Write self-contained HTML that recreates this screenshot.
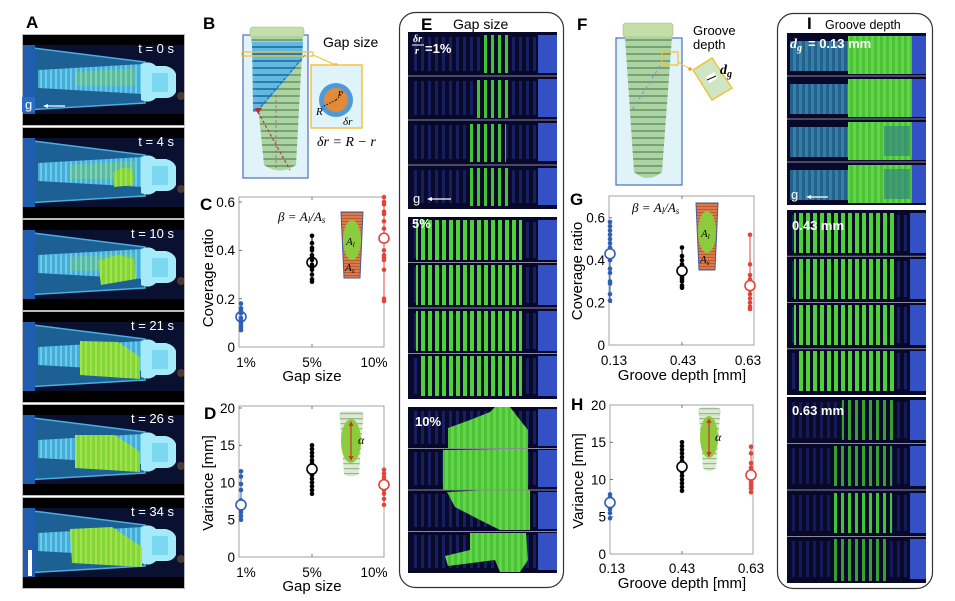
<!DOCTYPE html>
<html><head><meta charset="utf-8">
<style>html,body{margin:0;padding:0;background:#fff}svg{display:block}</style>
</head><body>
<svg width="955" height="601" viewBox="0 0 955 601" xmlns="http://www.w3.org/2000/svg" font-family="'Liberation Sans', Arial, sans-serif">
<defs>
 <pattern id="thA" width="5" height="20" patternUnits="userSpaceOnUse"><rect width="5" height="20" fill="#46acd8"/><rect width="2" height="20" fill="#6ccaea"/></pattern>
 <pattern id="gA" width="5" height="20" patternUnits="userSpaceOnUse"><rect width="5" height="20" fill="#84d43c"/><rect width="2" height="20" fill="#a0e44a"/></pattern>
 <pattern id="sg" width="7" height="20" patternUnits="userSpaceOnUse"><rect x="1" width="3" height="20" fill="#42c434"/></pattern>
 <pattern id="sg2" width="7" height="20" patternUnits="userSpaceOnUse"><rect x="1" width="4" height="20" fill="#4ed03a"/></pattern>
 <pattern id="sg3" width="7" height="20" patternUnits="userSpaceOnUse"><rect x="1" width="3" height="20" fill="#38a030"/></pattern>
 <pattern id="sb" width="7" height="20" patternUnits="userSpaceOnUse"><rect width="7" height="20" fill="#09092a"/><rect x="1" width="3" height="20" fill="#161f62"/></pattern>
 <pattern id="sc" width="6" height="20" patternUnits="userSpaceOnUse"><rect width="6" height="20" fill="#22628c"/><rect x="1" width="3" height="20" fill="#3480a4"/></pattern>
 <pattern id="gb" width="6" height="20" patternUnits="userSpaceOnUse"><rect width="6" height="20" fill="#4cc238"/><rect x="1" width="3" height="20" fill="#62d646"/></pattern>
 <pattern id="ht" width="20" height="7" patternUnits="userSpaceOnUse"><rect width="20" height="7" fill="#acd4a2"/><rect y="4" width="20" height="2" fill="#76a274"/></pattern>
 <pattern id="htl" width="20" height="5" patternUnits="userSpaceOnUse"><rect width="20" height="5" fill="#dcebd2"/><rect y="3" width="20" height="1.2" fill="#98b890"/></pattern>
 <pattern id="htb" width="20" height="7" patternUnits="userSpaceOnUse"><rect width="20" height="7" fill="#5cb8e2"/><rect y="4" width="20" height="2" fill="#2a78b0"/></pattern>
 <pattern id="org" width="20" height="3" patternUnits="userSpaceOnUse"><rect width="20" height="3" fill="#dc7a48"/><rect y="2" width="20" height="1" fill="#b85a36"/></pattern>
 <g id="fb">
  <rect x="22" y="0" width="163" height="92" fill="#000"/>
  <rect x="22" y="11" width="163" height="69" fill="#0a1130"/>
  <polygon points="25,13 145,28 145,69 25,76" fill="#1d6094" stroke="#4aaee0" stroke-width="1.5"/>
  <rect x="22" y="11" width="13" height="69" fill="#1f5db0"/>
  <polygon points="38,36 143,30 143,60 38,54" fill="url(#thA)"/>
  <path d="M141,30 Q150,26 156,32 L166,32 Q174,34 176,40 L176,58 Q173,64 166,64 L156,64 Q150,70 141,66 Z" fill="#a4eaf8"/>
  <rect x="152" y="39" width="16" height="19" fill="#7ad8f0"/>
  <circle cx="181" cy="62" r="4" fill="#6a4a34" opacity=".7"/>
  <rect x="22.5" y="0.5" width="162" height="91" fill="none" stroke="#bbb" stroke-width="1"/>
 </g>
</defs>
<rect width="955" height="601" fill="#fff"/>

<!-- ============ PANEL A ============ -->
<text x="26" y="28" font-size="17" font-weight="bold">A</text>
<g transform="translate(0,34)"><use href="#fb"/>
 <polygon points="75,38 135,34 135,52 75,52" fill="url(#gA)" opacity=".35"/>
 <text x="174" y="19" text-anchor="end" fill="#fff" font-size="13">t = 0 s</text>
 <rect x="22" y="63" width="13" height="15" fill="#2a6cc8"/>
 <text x="25" y="75" fill="#fff" font-size="13">g</text>
 <line x1="46" y1="72" x2="65" y2="72" stroke="#fff" stroke-width="1.2"/>
 <polygon points="43,72 48,70 48,74" fill="#fff"/>
</g>
<g transform="translate(0,127)"><use href="#fb"/>
 <polygon points="70,38 135,34 135,52 70,52" fill="url(#gA)" opacity=".35"/>
 <path d="M113,46 L122,41 L132,42 L134,58 L114,60 Z" fill="url(#gA)"/>
 <text x="174" y="19" text-anchor="end" fill="#fff" font-size="13">t = 4 s</text>
</g>
<g transform="translate(0,219)"><use href="#fb"/>
 <polygon points="70,38 135,34 135,52 70,52" fill="url(#gA)" opacity=".3"/>
 <path d="M98,42 L118,36 L134,40 L136,60 L101,66 Z" fill="url(#gA)"/>
 <text x="174" y="19" text-anchor="end" fill="#fff" font-size="13">t = 10 s</text>
</g>
<g transform="translate(0,311)"><use href="#fb"/>
 <polygon points="80,30 118,31 140,46 140,68 80,64" fill="url(#gA)"/>
 <text x="174" y="19" text-anchor="end" fill="#fff" font-size="13">t = 21 s</text>
</g>
<g transform="translate(0,404)"><use href="#fb"/>
 <polygon points="75,31 115,31 140,48 140,68 75,64" fill="url(#gA)"/>
 <text x="174" y="19" text-anchor="end" fill="#fff" font-size="13">t = 26 s</text>
</g>
<g transform="translate(0,497)"><use href="#fb"/>
 <polygon points="70,32 112,30 142,50 142,70 72,66" fill="url(#gA)"/>
 <text x="174" y="19" text-anchor="end" fill="#fff" font-size="13">t = 34 s</text>
 <rect x="28" y="53" width="4" height="26" fill="#fff"/>
</g>

<!-- ============ PANEL B ============ -->
<text x="203" y="29" font-size="17" font-weight="bold">B</text>
<rect x="243" y="35" width="65" height="143" fill="#dff3f8" stroke="#4a6fc0" stroke-width="1.2"/>
<rect x="250" y="27" width="54" height="10" rx="3" fill="#c3dea6" stroke="#9cbf88" stroke-width=".6"/>
<path d="M251,36 L303,36 L296,165 Q280,176 264,165 Z" fill="url(#ht)"/>
<polygon points="252,42 303,42 302,60 258,112 253,112" fill="url(#htb)" opacity=".95"/>
<line x1="305" y1="55" x2="258" y2="110" stroke="#2a6ab8" stroke-width="1.2" stroke-dasharray="3,2"/>
<line x1="258" y1="112" x2="290" y2="170" stroke="#b04040" stroke-width="1.2" stroke-dasharray="3,2"/>
<line x1="276" y1="95" x2="276" y2="170" stroke="#b06060" stroke-width=".8" stroke-dasharray="3,2"/>
<polygon points="255,108 262,108 258,114" fill="#b03030"/>
<rect x="242" y="52" width="71" height="4" fill="none" stroke="#f2c030" stroke-width="1.2"/>
<line x1="313" y1="55" x2="336" y2="65" stroke="#f2c030" stroke-width="1"/>
<circle cx="336" cy="65" r="1.8" fill="#f2a020"/>
<text x="323" y="47" font-size="14">Gap size</text>
<rect x="311" y="65" width="51" height="63" fill="#dff3f8" stroke="#f2c030" stroke-width="1.4"/>
<circle cx="336" cy="100" r="17" fill="#4e9ad8"/>
<circle cx="336" cy="100" r="12" fill="#e08a3a"/>
<line x1="336" y1="100" x2="344" y2="91" stroke="#111" stroke-width="1" stroke-dasharray="1.5,1.5"/>
<line x1="336" y1="100" x2="322" y2="107" stroke="#111" stroke-width="1" stroke-dasharray="1.5,1.5"/>
<text x="338" y="96" font-family="'Liberation Serif', serif" font-style="italic" font-size="11">r</text>
<text x="316" y="115" font-family="'Liberation Serif', serif" font-style="italic" font-size="11">R</text>
<text x="343" y="125" font-family="'Liberation Serif', serif" font-style="italic" font-size="11">δr</text>
<text x="317" y="146" font-family="'Liberation Serif', serif" font-style="italic" font-size="14">δr = R − r</text>

<!-- ============ PANEL C ============ -->
<text x="200" y="210" font-size="17" font-weight="bold">C</text>
<rect x="239" y="197" width="145" height="150" fill="none" stroke="#9a9a9a" stroke-width=".9"/>
<g stroke="#555" stroke-width=".8">
 <line x1="239" y1="202" x2="242" y2="202"/><line x1="239" y1="250.3" x2="242" y2="250.3"/><line x1="239" y1="298.7" x2="242" y2="298.7"/>
 <line x1="312" y1="347" x2="312" y2="344"/><line x1="312" y1="197" x2="312" y2="200"/>
</g>
<g font-size="13.5" text-anchor="end">
 <text x="235" y="352">0</text><text x="235" y="304">0.2</text><text x="235" y="255">0.4</text><text x="235" y="207">0.6</text>
</g>
<g font-size="13.5" text-anchor="middle">
 <text x="246" y="367">1%</text><text x="312" y="367">5%</text><text x="374" y="367">10%</text>
</g>
<text x="312" y="381" font-size="15" text-anchor="middle">Gap size</text>
<text transform="translate(213,278) rotate(-90)" font-size="15" text-anchor="middle">Coverage ratio</text>
<g fill="#2f5fb5" stroke="none">
 <line x1="241" y1="330.1" x2="241" y2="303.5" stroke="#2f5fb5"/>
 <circle cx="241" cy="330.1" r="2.3"/><circle cx="241" cy="327.7" r="2.3"/><circle cx="241" cy="325.2" r="2.3"/><circle cx="241" cy="322.8" r="2.3"/><circle cx="241" cy="320.4" r="2.3"/><circle cx="241" cy="318" r="2.3"/><circle cx="241" cy="313.2" r="2.3"/><circle cx="241" cy="310.7" r="2.3"/><circle cx="241" cy="308.3" r="2.3"/><circle cx="241" cy="303.5" r="2.3"/>
</g>
<circle cx="241" cy="316.8" r="5" fill="none" stroke="#2f5fb5" stroke-width="1.6"/>
<g fill="#000">
 <line x1="312" y1="281.7" x2="312" y2="235.8" stroke="#000"/>
 <circle cx="312" cy="281.7" r="2.3"/><circle cx="312" cy="279.3" r="2.3"/><circle cx="312" cy="274.5" r="2.3"/><circle cx="312" cy="269.7" r="2.3"/><circle cx="312" cy="267.2" r="2.3"/><circle cx="312" cy="264.8" r="2.3"/><circle cx="312" cy="260" r="2.3"/><circle cx="312" cy="257.6" r="2.3"/><circle cx="312" cy="255.2" r="2.3"/><circle cx="312" cy="250.3" r="2.3"/><circle cx="312" cy="247.9" r="2.3"/><circle cx="312" cy="243.1" r="2.3"/><circle cx="312" cy="235.8" r="2.3"/>
</g>
<circle cx="312" cy="262.4" r="5" fill="none" stroke="#000" stroke-width="1.6"/>
<g fill="#e3443a">
 <line x1="384" y1="301.1" x2="384" y2="197.1" stroke="#e3443a"/>
 <circle cx="384" cy="301.1" r="2.3"/><circle cx="384" cy="298.7" r="2.3"/><circle cx="384" cy="269.7" r="2.3"/><circle cx="384" cy="260" r="2.3"/><circle cx="384" cy="257.6" r="2.3"/><circle cx="384" cy="255.2" r="2.3"/><circle cx="384" cy="250.3" r="2.3"/><circle cx="384" cy="228.6" r="2.3"/><circle cx="384" cy="221.3" r="2.3"/><circle cx="384" cy="214.1" r="2.3"/><circle cx="384" cy="211.6" r="2.3"/><circle cx="384" cy="204.4" r="2.3"/><circle cx="384" cy="202" r="2.3"/><circle cx="384" cy="197.1" r="2.3"/>
</g>
<circle cx="384" cy="238.2" r="5" fill="#fff" stroke="#e3443a" stroke-width="1.6"/>
<text x="278" y="221" font-family="'Liberation Serif', serif" font-style="italic" font-size="13">β = A<tspan font-size="9" dy="2">l</tspan><tspan dy="-2">/A</tspan><tspan font-size="9" dy="2">s</tspan></text>
<polygon points="341,212 363,212 360,278 344,278" fill="url(#org)" stroke="#4a5a9a" stroke-width="1"/>
<ellipse cx="352" cy="240" rx="9" ry="20" fill="#8ccc3c"/>
<text x="346" y="245" font-family="'Liberation Serif', serif" font-style="italic" font-size="11">A<tspan font-size="7" dy="2">l</tspan></text>
<text x="345" y="271" font-family="'Liberation Serif', serif" font-style="italic" font-size="11">A<tspan font-size="7" dy="2">s</tspan></text>

<!-- ============ PANEL D ============ -->
<text x="204" y="419" font-size="17" font-weight="bold">D</text>
<rect x="239" y="406" width="145" height="151" fill="none" stroke="#9a9a9a" stroke-width=".9"/>
<g stroke="#555" stroke-width=".8">
 <line x1="239" y1="519.75" x2="242" y2="519.75"/><line x1="239" y1="482.5" x2="242" y2="482.5"/><line x1="239" y1="445.25" x2="242" y2="445.25"/><line x1="239" y1="408" x2="242" y2="408"/>
 <line x1="312" y1="557" x2="312" y2="554"/><line x1="312" y1="406" x2="312" y2="409"/>
</g>
<g font-size="13.5" text-anchor="end">
 <text x="235" y="562">0</text><text x="235" y="524.5">5</text><text x="235" y="487.5">10</text><text x="235" y="450">15</text><text x="235" y="413">20</text>
</g>
<g font-size="13.5" text-anchor="middle">
 <text x="246" y="577">1%</text><text x="312" y="577">5%</text><text x="374" y="577">10%</text>
</g>
<text x="312" y="591" font-size="15" text-anchor="middle">Gap size</text>
<text transform="translate(213,483) rotate(-90)" font-size="15" text-anchor="middle">Variance [mm]</text>
<g fill="#2f5fb5">
 <line x1="241" y1="519.8" x2="241" y2="471.3" stroke="#2f5fb5"/>
 <circle cx="241" cy="519.8" r="2.3"/><circle cx="241" cy="516" r="2.3"/><circle cx="241" cy="512.3" r="2.3"/><circle cx="241" cy="510.1" r="2.3"/><circle cx="241" cy="507.8" r="2.3"/><circle cx="241" cy="502.6" r="2.3"/><circle cx="241" cy="500.4" r="2.3"/><circle cx="241" cy="490" r="2.3"/><circle cx="241" cy="484" r="2.3"/><circle cx="241" cy="476.5" r="2.3"/><circle cx="241" cy="471.3" r="2.3"/>
</g>
<circle cx="241" cy="504.9" r="5" fill="#fff" stroke="#2f5fb5" stroke-width="1.6"/>
<g fill="#000">
 <line x1="312" y1="493.7" x2="312" y2="445.3" stroke="#000"/>
 <circle cx="312" cy="493.7" r="2.3"/><circle cx="312" cy="490" r="2.3"/><circle cx="312" cy="486.2" r="2.3"/><circle cx="312" cy="482.5" r="2.3"/><circle cx="312" cy="478.8" r="2.3"/><circle cx="312" cy="475.1" r="2.3"/><circle cx="312" cy="472.8" r="2.3"/><circle cx="312" cy="467.6" r="2.3"/><circle cx="312" cy="465.4" r="2.3"/><circle cx="312" cy="463.1" r="2.3"/><circle cx="312" cy="460.2" r="2.3"/><circle cx="312" cy="456.4" r="2.3"/><circle cx="312" cy="452.7" r="2.3"/><circle cx="312" cy="449" r="2.3"/><circle cx="312" cy="445.3" r="2.3"/>
</g>
<circle cx="312" cy="469.1" r="5" fill="#fff" stroke="#000" stroke-width="1.6"/>
<g fill="#e3443a">
 <line x1="384" y1="504.9" x2="384" y2="469.8" stroke="#e3443a"/>
 <circle cx="384" cy="504.9" r="2.3"/><circle cx="384" cy="498.9" r="2.3"/><circle cx="384" cy="493.7" r="2.3"/><circle cx="384" cy="490" r="2.3"/><circle cx="384" cy="487.7" r="2.3"/><circle cx="384" cy="482.5" r="2.3"/><circle cx="384" cy="480.3" r="2.3"/><circle cx="384" cy="477.3" r="2.3"/><circle cx="384" cy="473.6" r="2.3"/><circle cx="384" cy="469.8" r="2.3"/>
</g>
<circle cx="384" cy="484.7" r="5" fill="#fff" stroke="#e3443a" stroke-width="1.6"/>
<rect x="340" y="412" width="23" height="8" rx="2" fill="url(#htl)" stroke="#a8c49c" stroke-width=".5"/>
<path d="M340,420 L363,420 L359,474 Q351,479 344,474 Z" fill="url(#htl)"/>
<ellipse cx="351" cy="441" rx="10" ry="22" fill="#8ccc3c"/>
<line x1="351" y1="424" x2="351" y2="458" stroke="#d03030" stroke-width="1.2"/>
<polygon points="348.5,426 353.5,426 351,421" fill="#d03030"/><polygon points="348.5,456 353.5,456 351,461" fill="#d03030"/>
<text x="358" y="444" font-family="'Liberation Serif', serif" font-style="italic" font-size="12">α</text>

<!-- ============ PANEL E ============ -->
<rect x="399.5" y="12.5" width="164" height="575" rx="16" fill="none" stroke="#333" stroke-width="1.2"/>
<text x="421" y="30" font-size="17" font-weight="bold">E</text>
<text x="453" y="29" font-size="14">Gap size</text>
<!-- group 1% -->
<rect x="408" y="32" width="149" height="177" fill="#08082a"/>
<g>
 <rect x="410" y="37" width="128" height="34" fill="url(#sb)"/><rect x="538" y="35" width="19" height="38" fill="#3350c4"/>
 <rect x="410" y="81" width="128" height="34" fill="url(#sb)"/><rect x="538" y="79" width="19" height="38" fill="#3350c4"/>
 <rect x="410" y="125" width="128" height="34" fill="url(#sb)"/><rect x="538" y="123" width="19" height="38" fill="#3350c4"/>
 <rect x="410" y="170" width="128" height="33" fill="url(#sb)"/><rect x="538" y="168" width="19" height="37" fill="#3350c4"/>
 <rect x="480" y="35" width="32" height="38" fill="url(#sg)"/>
 <rect x="474" y="80" width="34" height="38" fill="url(#sg)"/>
 <rect x="470" y="124" width="36" height="38" fill="url(#sg)"/>
 <rect x="468" y="168" width="42" height="38" fill="url(#sg)"/>
</g>
<g stroke="#8a8a9a" stroke-width="1"><line x1="408" y1="76" x2="557" y2="76"/><line x1="408" y1="120" x2="557" y2="120"/><line x1="408" y1="165" x2="557" y2="165"/></g>
<text x="413" y="42" fill="#fff" font-family="'Liberation Serif', serif" font-style="italic" font-weight="bold" font-size="10">δr</text>
<line x1="412" y1="45" x2="424" y2="45" stroke="#fff" stroke-width="1"/>
<text x="415" y="54" fill="#fff" font-family="'Liberation Serif', serif" font-style="italic" font-weight="bold" font-size="10">r</text>
<text x="425" y="53" fill="#fff" font-size="13" font-weight="bold">=1%</text>
<text x="413" y="203" fill="#fff" font-size="13">g</text>
<line x1="431" y1="199" x2="451" y2="199" stroke="#fff" stroke-width="1.2"/><polygon points="427,199 432,197 432,201" fill="#fff"/>
<!-- group 5% -->
<rect x="408" y="217" width="149" height="182" fill="#08082a"/>
<rect x="410" y="222" width="128" height="36" fill="url(#sb)"/><rect x="538" y="220" width="19" height="40" fill="#3350c4"/>
<rect x="410" y="267" width="128" height="36" fill="url(#sb)"/><rect x="538" y="265" width="19" height="40" fill="#3350c4"/>
<rect x="410" y="313" width="128" height="36" fill="url(#sb)"/><rect x="538" y="311" width="19" height="40" fill="#3350c4"/>
<rect x="410" y="358" width="128" height="36" fill="url(#sb)"/><rect x="538" y="356" width="19" height="40" fill="#3350c4"/>
<rect x="416" y="220" width="106" height="40" fill="url(#sg2)"/>
<rect x="416" y="265" width="106" height="40" fill="url(#sg2)"/>
<rect x="416" y="311" width="106" height="40" fill="url(#sg2)"/>
<rect x="420" y="356" width="102" height="40" fill="url(#sg2)"/>
<g stroke="#8a8a9a" stroke-width="1"><line x1="408" y1="262.5" x2="557" y2="262.5"/><line x1="408" y1="308" x2="557" y2="308"/><line x1="408" y1="353.5" x2="557" y2="353.5"/></g>
<text x="412" y="228" fill="#fff" font-size="13" font-weight="bold">5%</text>
<!-- group 10% -->
<rect x="408" y="407" width="149" height="166" fill="#08082a"/>
<rect x="410" y="411" width="128" height="33" fill="url(#sb)"/><rect x="538" y="409" width="19" height="37" fill="#3350c4"/>
<rect x="410" y="452" width="128" height="33" fill="url(#sb)"/><rect x="538" y="450" width="19" height="37" fill="#3350c4"/>
<rect x="410" y="494" width="128" height="33" fill="url(#sb)"/><rect x="538" y="492" width="19" height="37" fill="#3350c4"/>
<rect x="410" y="535" width="128" height="33" fill="url(#sb)"/><rect x="538" y="533" width="19" height="37" fill="#3350c4"/>
<polygon points="448,428 470,420 490,412 495,407 510,407 520,420 528,430 528,448 448,448" fill="url(#gb)"/>
<polygon points="443,450 500,449 528,449 528,490 443,490" fill="url(#gb)"/>
<polygon points="447,492 490,490 530,490 530,530 500,530 480,520 455,507" fill="url(#gb)"/>
<polygon points="470,533 526,533 528,560 520,572 500,572 495,560 448,566 445,556 470,550" fill="url(#gb)"/>
<g stroke="#8a8a9a" stroke-width="1"><line x1="408" y1="448.5" x2="557" y2="448.5"/><line x1="408" y1="490" x2="557" y2="490"/><line x1="408" y1="531.5" x2="557" y2="531.5"/></g>
<text x="415" y="426" fill="#fff" font-size="13" font-weight="bold">10%</text>

<!-- ============ PANEL F ============ -->
<text x="577" y="30" font-size="17" font-weight="bold">F</text>
<rect x="616" y="38" width="66" height="147" fill="#dff3f8" stroke="#4a6fc0" stroke-width="1.2"/>
<rect x="623" y="23" width="50" height="14" rx="3" fill="#c3dea6" stroke="#9cbf88" stroke-width=".6"/>
<path d="M625,37 L672,37 L662,172 Q648,184 634,172 Z" fill="url(#ht)"/>
<line x1="660" y1="66" x2="632" y2="110" stroke="#9a88d0" stroke-width="1.2" stroke-dasharray="3,3"/>
<rect x="662" y="52" width="16" height="13" fill="none" stroke="#f2c030" stroke-width="1.2"/>
<line x1="678" y1="62" x2="690" y2="69" stroke="#f2c030" stroke-width="1"/>
<circle cx="690" cy="69" r="1.8" fill="#f2a020"/>
<polygon points="693,70 712,58 732,88 712,100" fill="#cfe6c4" stroke="#f2c030" stroke-width="1.4"/>
<rect x="707" y="74" width="10" height="7" fill="#fff" transform="rotate(-32 712 78)"/>
<line x1="707" y1="80" x2="716" y2="76" stroke="#111" stroke-width="1"/>
<text x="720" y="74" font-family="'Liberation Serif', serif" font-style="italic" font-weight="bold" font-size="14">d<tspan font-size="10" dy="3">g</tspan></text>
<text x="693" y="35" font-size="13">Groove</text>
<text x="693" y="49" font-size="13">depth</text>

<!-- ============ PANEL G ============ -->
<text x="570" y="205" font-size="17" font-weight="bold">G</text>
<rect x="609" y="196" width="145" height="149" fill="none" stroke="#9a9a9a" stroke-width=".9"/>
<g stroke="#555" stroke-width=".8">
 <line x1="609" y1="302.6" x2="612" y2="302.6"/><line x1="609" y1="260.2" x2="612" y2="260.2"/><line x1="609" y1="217.8" x2="612" y2="217.8"/>
 <line x1="682" y1="345" x2="682" y2="342"/><line x1="682" y1="196" x2="682" y2="199"/>
</g>
<g font-size="13.5" text-anchor="end">
 <text x="605" y="350">0</text><text x="605" y="307.5">0.2</text><text x="605" y="265">0.4</text><text x="605" y="222.5">0.6</text>
</g>
<g font-size="13.5" text-anchor="middle">
 <text x="614" y="365">0.13</text><text x="683" y="365">0.43</text><text x="748" y="365">0.63</text>
</g>
<text x="682" y="380" font-size="15" text-anchor="middle">Groove depth [mm]</text>
<text transform="translate(582,271) rotate(-90)" font-size="15" text-anchor="middle">Coverage ratio</text>
<g fill="#2f5fb5">
 <line x1="610" y1="300.5" x2="610" y2="222" stroke="#2f5fb5"/>
 <circle cx="610" cy="300.5" r="2.3"/><circle cx="610" cy="294.1" r="2.3"/><circle cx="610" cy="283.5" r="2.3"/><circle cx="610" cy="281.4" r="2.3"/><circle cx="610" cy="272.9" r="2.3"/><circle cx="610" cy="268.7" r="2.3"/><circle cx="610" cy="260.2" r="2.3"/><circle cx="610" cy="247.5" r="2.3"/><circle cx="610" cy="243.2" r="2.3"/><circle cx="610" cy="239" r="2.3"/><circle cx="610" cy="234.8" r="2.3"/><circle cx="610" cy="230.5" r="2.3"/><circle cx="610" cy="226.3" r="2.3"/><circle cx="610" cy="222" r="2.3"/>
</g>
<circle cx="610" cy="253.8" r="5" fill="#fff" stroke="#2f5fb5" stroke-width="1.6"/>
<g fill="#000">
 <line x1="682" y1="287.8" x2="682" y2="247.5" stroke="#000"/>
 <circle cx="682" cy="287.8" r="2.3"/><circle cx="682" cy="285.6" r="2.3"/><circle cx="682" cy="281.4" r="2.3"/><circle cx="682" cy="279.3" r="2.3"/><circle cx="682" cy="277.2" r="2.3"/><circle cx="682" cy="275" r="2.3"/><circle cx="682" cy="266.6" r="2.3"/><circle cx="682" cy="264.4" r="2.3"/><circle cx="682" cy="260.2" r="2.3"/><circle cx="682" cy="256" r="2.3"/><circle cx="682" cy="247.5" r="2.3"/>
</g>
<circle cx="682" cy="270.8" r="5" fill="#fff" stroke="#000" stroke-width="1.6"/>
<g fill="#e3443a">
 <line x1="750" y1="309" x2="750" y2="234.8" stroke="#e3443a"/>
 <circle cx="750" cy="309" r="2.3"/><circle cx="750" cy="306.8" r="2.3"/><circle cx="750" cy="302.6" r="2.3"/><circle cx="750" cy="298.4" r="2.3"/><circle cx="750" cy="294.1" r="2.3"/><circle cx="750" cy="289.9" r="2.3"/><circle cx="750" cy="281.4" r="2.3"/><circle cx="750" cy="279.3" r="2.3"/><circle cx="750" cy="275" r="2.3"/><circle cx="750" cy="264.4" r="2.3"/><circle cx="750" cy="234.8" r="2.3"/>
</g>
<circle cx="750" cy="285.6" r="5" fill="#fff" stroke="#e3443a" stroke-width="1.6"/>
<text x="632" y="212" font-family="'Liberation Serif', serif" font-style="italic" font-size="13">β = A<tspan font-size="9" dy="2">l</tspan><tspan dy="-2">/A</tspan><tspan font-size="9" dy="2">s</tspan></text>
<polygon points="696,203 718,203 715,270 699,270" fill="url(#org)" stroke="#4a5a9a" stroke-width="1"/>
<ellipse cx="707" cy="232" rx="9" ry="21" fill="#8ccc3c"/>
<text x="701" y="237" font-family="'Liberation Serif', serif" font-style="italic" font-size="11">A<tspan font-size="7" dy="2">l</tspan></text>
<text x="700" y="263" font-family="'Liberation Serif', serif" font-style="italic" font-size="11">A<tspan font-size="7" dy="2">s</tspan></text>

<!-- ============ PANEL H ============ -->
<text x="571" y="410" font-size="17" font-weight="bold">H</text>
<rect x="610" y="405" width="143" height="149" fill="none" stroke="#9a9a9a" stroke-width=".9"/>
<g stroke="#555" stroke-width=".8">
 <line x1="610" y1="516.75" x2="613" y2="516.75"/><line x1="610" y1="479.5" x2="613" y2="479.5"/><line x1="610" y1="442.25" x2="613" y2="442.25"/>
 <line x1="682" y1="554" x2="682" y2="551"/><line x1="682" y1="405" x2="682" y2="408"/>
</g>
<g font-size="13.5" text-anchor="end">
 <text x="606" y="559">0</text><text x="606" y="521.5">5</text><text x="606" y="484.5">10</text><text x="606" y="447">15</text><text x="606" y="410">20</text>
</g>
<g font-size="13.5" text-anchor="middle">
 <text x="612" y="573">0.13</text><text x="682" y="573">0.43</text><text x="751" y="573">0.63</text>
</g>
<text x="682" y="588" font-size="15" text-anchor="middle">Groove depth [mm]</text>
<text transform="translate(583,481) rotate(-90)" font-size="15" text-anchor="middle">Variance [mm]</text>
<g fill="#2f5fb5">
 <line x1="610" y1="518.2" x2="610" y2="494.4" stroke="#2f5fb5"/>
 <circle cx="610" cy="518.2" r="2.3"/><circle cx="610" cy="513" r="2.3"/><circle cx="610" cy="509.3" r="2.3"/><circle cx="610" cy="506.3" r="2.3"/><circle cx="610" cy="500.4" r="2.3"/><circle cx="610" cy="497.4" r="2.3"/><circle cx="610" cy="494.4" r="2.3"/>
</g>
<circle cx="610" cy="502.6" r="5" fill="#fff" stroke="#2f5fb5" stroke-width="1.6"/>
<g fill="#000">
 <line x1="682" y1="490.7" x2="682" y2="442.3" stroke="#000"/>
 <circle cx="682" cy="490.7" r="2.3"/><circle cx="682" cy="487" r="2.3"/><circle cx="682" cy="483.2" r="2.3"/><circle cx="682" cy="479.5" r="2.3"/><circle cx="682" cy="475.8" r="2.3"/><circle cx="682" cy="472.1" r="2.3"/><circle cx="682" cy="464.6" r="2.3"/><circle cx="682" cy="460.9" r="2.3"/><circle cx="682" cy="457.2" r="2.3"/><circle cx="682" cy="453.4" r="2.3"/><circle cx="682" cy="449.7" r="2.3"/><circle cx="682" cy="446" r="2.3"/><circle cx="682" cy="442.3" r="2.3"/>
</g>
<circle cx="682" cy="466.8" r="5" fill="#fff" stroke="#000" stroke-width="1.6"/>
<g fill="#e3443a">
 <line x1="751" y1="492.2" x2="751" y2="446.7" stroke="#e3443a"/>
 <circle cx="751" cy="492.2" r="2.3"/><circle cx="751" cy="488.4" r="2.3"/><circle cx="751" cy="485.5" r="2.3"/><circle cx="751" cy="482.5" r="2.3"/><circle cx="751" cy="479.5" r="2.3"/><circle cx="751" cy="470.6" r="2.3"/><circle cx="751" cy="467.6" r="2.3"/><circle cx="751" cy="463.1" r="2.3"/><circle cx="751" cy="453.4" r="2.3"/><circle cx="751" cy="446.7" r="2.3"/>
</g>
<circle cx="751" cy="475" r="5" fill="#fff" stroke="#e3443a" stroke-width="1.6"/>
<rect x="699" y="408" width="21" height="8" rx="2" fill="url(#htl)" stroke="#a8c49c" stroke-width=".5"/>
<path d="M699,416 L720,416 L716,468 Q709,474 703,468 Z" fill="url(#htl)"/>
<ellipse cx="709" cy="437" rx="9" ry="21" fill="#8ccc3c"/>
<line x1="709" y1="421" x2="709" y2="454" stroke="#d03030" stroke-width="1.2"/>
<polygon points="706.5,423 711.5,423 709,418" fill="#d03030"/><polygon points="706.5,452 711.5,452 709,457" fill="#d03030"/>
<text x="715" y="441" font-family="'Liberation Serif', serif" font-style="italic" font-size="12">α</text>

<!-- ============ PANEL I ============ -->
<rect x="777.5" y="13.5" width="155" height="575" rx="16" fill="none" stroke="#333" stroke-width="1.2"/>
<text x="807" y="29" font-size="17" font-weight="bold">I</text>
<text x="825" y="29" font-size="12.5">Groove depth</text>
<!-- 0.13 -->
<rect x="787" y="33" width="139" height="172" fill="#08082a"/>
<rect x="790" y="41" width="60" height="30" fill="url(#sc)"/><rect x="848" y="36" width="64" height="38" fill="url(#gb)"/><rect x="912" y="36" width="14" height="38" fill="#3350c4"/>
<rect x="790" y="84" width="60" height="30" fill="url(#sc)"/><rect x="848" y="79" width="64" height="38" fill="url(#gb)"/><rect x="912" y="79" width="14" height="38" fill="#3350c4"/>
<rect x="790" y="127" width="60" height="30" fill="url(#sc)"/><rect x="848" y="122" width="64" height="38" fill="url(#gb)"/><rect x="884" y="126" width="26" height="30" fill="#2f7a8a" opacity=".6"/><rect x="912" y="122" width="14" height="38" fill="#3350c4"/>
<rect x="790" y="170" width="60" height="30" fill="url(#sc)"/><rect x="848" y="165" width="64" height="38" fill="url(#gb)"/><rect x="884" y="169" width="26" height="30" fill="#2f7a8a" opacity=".6"/><rect x="912" y="165" width="14" height="38" fill="#3350c4"/>
<g stroke="#8a8a9a" stroke-width="1"><line x1="787" y1="76" x2="926" y2="76"/><line x1="787" y1="119" x2="926" y2="119"/><line x1="787" y1="162" x2="926" y2="162"/></g>
<text x="790" y="48" fill="#fff" font-family="'Liberation Serif', serif" font-style="italic" font-weight="bold" font-size="14">d<tspan font-size="10" dy="3">g</tspan></text>
<text x="808" y="48" fill="#fff" font-size="13" font-weight="bold">= 0.13 mm</text>
<text x="791" y="199" fill="#fff" font-size="13">g</text>
<line x1="810" y1="197" x2="828" y2="197" stroke="#fff" stroke-width="1.2"/><polygon points="806,197 811,195 811,199" fill="#fff"/>
<!-- 0.43 -->
<rect x="787" y="210" width="139" height="185" fill="#08082a"/>
<rect x="789" y="215" width="121" height="36" fill="url(#sb)"/><rect x="910" y="213" width="16" height="40" fill="#3350c4"/>
<rect x="789" y="261" width="121" height="36" fill="url(#sb)"/><rect x="910" y="259" width="16" height="40" fill="#3350c4"/>
<rect x="789" y="307" width="121" height="36" fill="url(#sb)"/><rect x="910" y="305" width="16" height="40" fill="#3350c4"/>
<rect x="789" y="353" width="121" height="36" fill="url(#sb)"/><rect x="910" y="351" width="16" height="40" fill="#3350c4"/>
<rect x="794" y="213" width="102" height="40" fill="url(#sg2)"/>
<rect x="794" y="259" width="102" height="40" fill="url(#sg2)"/>
<rect x="794" y="305" width="102" height="40" fill="url(#sg2)"/>
<rect x="798" y="351" width="98" height="40" fill="url(#sg2)"/>
<g stroke="#8a8a9a" stroke-width="1"><line x1="787" y1="256.25" x2="926" y2="256.25"/><line x1="787" y1="302.5" x2="926" y2="302.5"/><line x1="787" y1="348.75" x2="926" y2="348.75"/></g>
<text x="792" y="230" fill="#fff" font-size="13" font-weight="bold">0.43 mm</text>
<!-- 0.63 -->
<rect x="787" y="397" width="139" height="186" fill="#08082a"/>
<rect x="789" y="402" width="121" height="36" fill="url(#sb)" opacity=".8"/><rect x="910" y="400" width="16" height="40" fill="#3350c4"/>
<rect x="789" y="448" width="121" height="36" fill="url(#sb)" opacity=".8"/><rect x="910" y="446" width="16" height="40" fill="#3350c4"/>
<rect x="789" y="495" width="121" height="36" fill="url(#sb)" opacity=".8"/><rect x="910" y="493" width="16" height="40" fill="#3350c4"/>
<rect x="789" y="541" width="121" height="36" fill="url(#sb)" opacity=".8"/><rect x="910" y="539" width="16" height="40" fill="#3350c4"/>
<rect x="842" y="400" width="52" height="40" fill="url(#sg3)"/>
<rect x="834" y="446" width="58" height="40" fill="url(#sg3)"/>
<rect x="830" y="493" width="62" height="40" fill="url(#sg)"/>
<rect x="830" y="539" width="60" height="42" fill="url(#sg3)"/>
<g stroke="#8a8a9a" stroke-width="1"><line x1="787" y1="443.5" x2="926" y2="443.5"/><line x1="787" y1="490" x2="926" y2="490"/><line x1="787" y1="536.5" x2="926" y2="536.5"/></g>
<text x="792" y="415" fill="#fff" font-size="13" font-weight="bold">0.63 mm</text>
</svg>
</body></html>
